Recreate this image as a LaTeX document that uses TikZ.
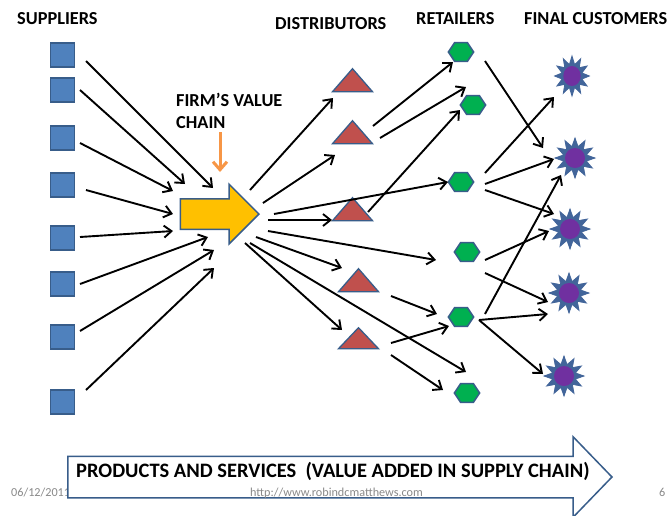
\documentclass[tikz,border=0pt]{standalone}
\usepackage{fontspec}
\setmainfont{Carlito}
\usetikzlibrary{arrows.meta,shapes.geometric,shapes.arrows}
\definecolor{bord}{HTML}{385D8A}
\definecolor{sq}{HTML}{4F81BD}
\definecolor{tri}{HTML}{C0504D}
\definecolor{hexa}{HTML}{00B050}
\definecolor{pur}{HTML}{7030A0}
\definecolor{amb}{HTML}{FFC000}
\definecolor{org}{HTML}{F79646}
\definecolor{foot}{HTML}{898989}
\definecolor{starb}{HTML}{42659A}
\tikzset{
 sqbox/.style={rectangle,draw=bord,line width=1.5pt,fill=sq,minimum size=24pt,inner sep=0pt},
 tribox/.style={isosceles triangle,isosceles triangle stretches,shape border rotate=90,draw=bord,line width=1.3pt,fill=tri,minimum width=40pt,minimum height=23pt,inner sep=0pt,anchor=apex},
 hexbox/.style={regular polygon,regular polygon sides=6,draw=bord,line width=1.5pt,fill=hexa,minimum size=23pt,inner sep=0pt,transform shape,xscale=1.1,yscale=.95},
 starbox/.style={star,star points=12,star point ratio=1.7,draw=starb,line width=.8pt,fill=starb,minimum size=40pt,inner sep=0pt,
   path picture={\fill[pur] (path picture bounding box.center) circle (10pt);}},
 arr/.style={-{Straight Barb[length=7.5pt,width=12pt,line width=1.9pt]},line width=1.9pt,black},
 head/.style={font=\bfseries\fontsize{18.3}{22}\selectfont,anchor=base west,inner sep=0pt},
 foottxt/.style={font=\fontsize{12.2}{14}\selectfont,text=foot,anchor=base west,inner sep=0pt}
}
\begin{document}
\begin{tikzpicture}[x=1pt,y=-1pt]
\useasboundingbox (0,0) rectangle (670,515);
\fill[white] (0,0) rectangle (670,515);
% labels
\node[head] (lsup) at (17,24) {SUPPLIERS};
\node[head] (ldis) at (275,29) {DISTRIBUTORS};
\node[head] (lret) at (416,24) {RETAILERS};
\node[head] (lfin) at (524,24) {FINAL CUSTOMERS};
\node[head] (lfv1) at (176,106) {FIRM’S VALUE};
\node[head] (lfv2) at (176,128) {CHAIN};
% suppliers
\node[sqbox] (s1) at (62.5,55) {};
\node[sqbox] (s2) at (62.5,90) {};
\node[sqbox] (s3) at (62.5,138) {};
\node[sqbox] (s4) at (62.5,185) {};
\node[sqbox] (s5) at (62.5,238) {};
\node[sqbox] (s6) at (62.5,284) {};
\node[sqbox] (s7) at (62.5,337) {};
\node[sqbox] (s8) at (62.5,402) {};
% firm
\node[single arrow,single arrow head extend=14.5pt,single arrow tip angle=90,single arrow head indent=0pt,draw=bord,line width=1.5pt,fill=amb,minimum height=78.5pt,inner sep=0pt,anchor=tip] (firm) at (260,214) {\rule{0pt}{29pt}};
% distributors
\node[tribox] (t1) at (352.5,67) {};
\node[tribox] (t2) at (352.5,119) {};
\node[tribox] (t3) at (352.5,196) {};
\node[tribox] (t4) at (358.5,267) {};
\node[tribox,minimum height=21pt] (t5) at (358.5,326) {};
% retailers
\node[hexbox] (h1) at (461,52) {};
\node[hexbox] (h2) at (473,105) {};
\node[hexbox] (h3) at (461,182) {};
\node[hexbox] (h4) at (467,252) {};
\node[hexbox] (h5) at (461,317) {};
\node[hexbox] (h6) at (467,393) {};
% customers
\node[starbox,transform shape,xscale=.87] (c1) at (572,76) {};
\node[starbox] (c2) at (575,158) {};
\node[starbox] (c3) at (570,229) {};
\node[starbox] (c4) at (569,293) {};
\node[starbox] (c5) at (564,376) {};
% orange arrow
\draw[-{Straight Barb[length=8pt,width=14pt,line width=3pt]},line width=3pt,org] ([shift={(44,4)}]lfv2.base west) -- ([shift={(-40,-42)}]firm.tip);
% supplier arrows
\draw[arr] ([shift={(23.5,6)}]s1.center) -- ([shift={(-47,-26)}]firm.tip);
\draw[arr] ([shift={(17.5,0)}]s2.center) -- ([shift={(-75,-30)}]firm.tip);
\draw[arr] ([shift={(17.5,5)}]s3.center) -- ([shift={(-87,-23)}]firm.tip);
\draw[arr] ([shift={(23.5,5)}]s4.center) -- ([shift={(-87,0)}]firm.tip);
\draw[arr] ([shift={(17.5,-1)}]s5.center) -- ([shift={(-87,17)}]firm.tip);
\draw[arr] ([shift={(17.5,0)}]s6.center) -- ([shift={(-52,23)}]firm.tip);
\draw[arr] ([shift={(17.5,-6)}]s7.center) -- ([shift={(-46,36)}]firm.tip);
\draw[arr] ([shift={(23.5,-12)}]s8.center) -- ([shift={(-46,54)}]firm.tip);
% firm out
\draw[arr] ([shift={(-10,-24)}]firm.tip) -- ([shift={(-19.5,31)}]t1.apex);
\draw[arr] ([shift={(3,-11)}]firm.tip) -- ([shift={(-17.5,36)}]t2.apex);
\draw[arr] ([shift={(8,6)}]firm.tip) -- ([shift={(-20.5,24)}]t3.apex);
\draw[arr] ([shift={(14,0)}]firm.tip) -- ([shift={(-13,0)}]h3.center);
\draw[arr] ([shift={(8,17)}]firm.tip) -- ([shift={(-31,8)}]h4.center);
\draw[arr] ([shift={(-4,23)}]firm.tip) -- ([shift={(-16.5,1)}]t4.apex);
\draw[arr] ([shift={(-15,29)}]firm.tip) -- ([shift={(-16.5,4)}]t5.apex);
\draw[arr] ([shift={(-10,29)}]firm.tip) -- ([shift={(-1,-21)}]h6.center);
% distributor to retailer
\draw[arr] ([shift={(20.5,7)}]t2.apex) -- ([shift={(-8,10)}]h1.center);
\draw[arr] ([shift={(27.5,19)}]t2.apex) -- ([shift={(-7,-18)}]h2.center);
\draw[arr] ([shift={(15.5,16)}]t3.apex) -- ([shift={(-13,5)}]h2.center);
\draw[arr] ([shift={(32.5,29)}]t4.apex) -- ([shift={(-24,-3)}]h5.center);
\draw[arr] ([shift={(32.5,17)}]t5.apex) -- ([shift={(-12,9)}]h5.center);
\draw[arr] ([shift={(32.5,29)}]t5.apex) -- ([shift={(-24,-3)}]h6.center);
% retailer to customer
\draw[arr] ([shift={(24,9)}]h1.center) -- ([shift={(-32,-10)}]c2.center);
\draw[arr] ([shift={(24,-9)}]h3.center) -- ([shift={(-18,21)}]c1.center);
\draw[arr] ([shift={(24,2)}]h3.center) -- ([shift={(-21,1)}]c2.center);
\draw[arr] ([shift={(24,8)}]h3.center) -- ([shift={(-16,-15)}]c3.center);
\draw[arr] ([shift={(18,8)}]h4.center) -- ([shift={(-21,2)}]c3.center);
\draw[arr] ([shift={(18,21)}]h4.center) -- ([shift={(-21,9)}]c4.center);
\draw[arr] ([shift={(24,-3)}]h5.center) -- ([shift={(-14,17)}]c2.center);
\draw[arr] ([shift={(18,3)}]h5.center) -- ([shift={(-21,21)}]c4.center);
\draw[arr] ([shift={(18,3)}]h5.center) -- ([shift={(-21,-2)}]c5.center);
% footer date lies under the big arrow
\node[foottxt] (fd) at (11,496) {06/12/2011};
% big arrow
\node[single arrow,single arrow head extend=19.5pt,single arrow tip angle=92,single arrow head indent=0pt,draw=bord,line width=1.5pt,fill=white,minimum height=544pt,inner sep=0pt,anchor=tip] (big) at (613,477) {\rule{0pt}{40pt}};
\node[font=\bfseries\fontsize{20.5}{24}\selectfont,anchor=base west,inner sep=0pt] (bigt) at (76,477) {PRODUCTS AND SERVICES\ \ (VALUE ADDED IN SUPPLY CHAIN)};
% footer
\node[foottxt] (fu) at (250,496) {http://www.robindcmatthews.com};
\node[foottxt] (fn) at (659,496) {6};
\end{tikzpicture}
\end{document}
